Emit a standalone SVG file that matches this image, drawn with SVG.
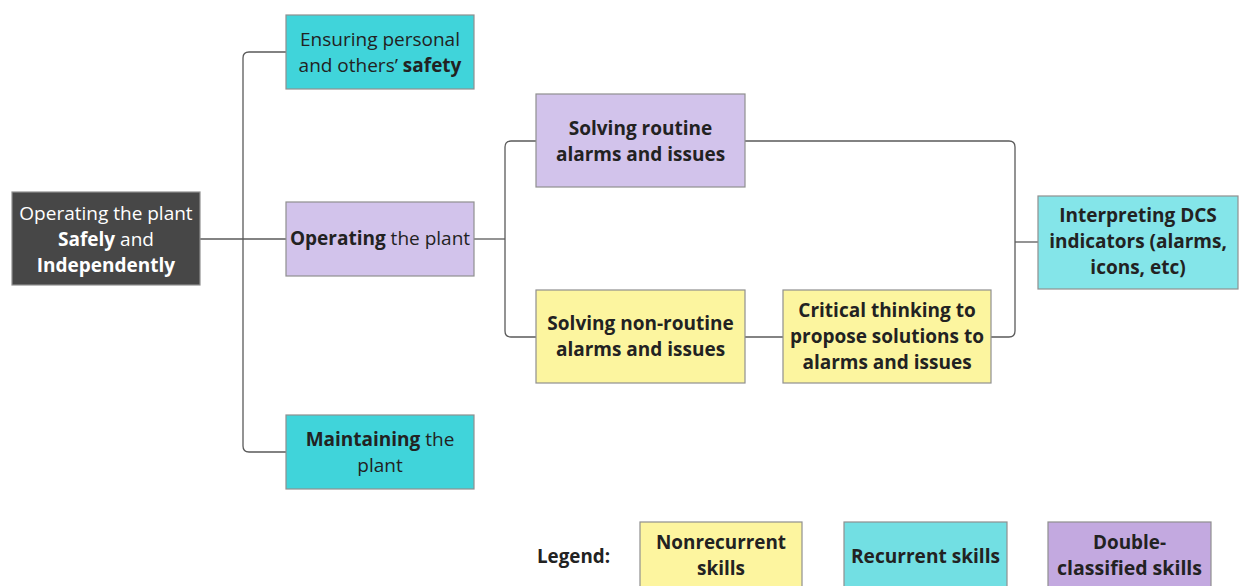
<svg xmlns="http://www.w3.org/2000/svg" width="1239" height="586" viewBox="0 0 1239 586">
<style>
text{font-family:"Open Sans","Noto Sans","Liberation Sans",sans-serif;font-size:19px;text-anchor:middle;fill:#222}
.b{font-weight:bold}
.w{fill:#fff}
.box{stroke:#8f8f8f;stroke-width:1.2}
.dark{fill:#474747}
.cy{fill:#40d4da}
.cy2{fill:#84e5e9}
.lv{fill:#d2c3eb}
.ye{fill:#fcf59f}
.lg{font-weight:bold;font-size:20px}
.con{fill:none;stroke:#5a5a5a;stroke-width:1.3}
</style>
<rect width="1239" height="586" fill="#fff"/>
<g id="connectors" class="con">
<path d="M200,239 H243"/>
<path d="M286,52 H249 Q243,52 243,58 V446 Q243,452 249,452 H286"/>
<path d="M243,239 H286"/>
<path d="M474,239 H505"/>
<path d="M536,141 H511 Q505,141 505,147 V331 Q505,337 511,337 H536"/>
<path d="M745,141 H1009 Q1015,141 1015,147 V331 Q1015,337 1009,337 H991"/>
<path d="M1015,242 H1038"/>
<path d="M745,337 H783"/>
</g>
<g id="root">
<rect class="box dark" x="12" y="192" width="188" height="93"/>
<text class="w" x="106" y="220">Operating the plant</text>
<text class="w" x="106" y="246"><tspan class="b w">Safely</tspan> and</text>
<text class="w b" x="106" y="272">Independently</text>
</g>
<g id="ensuring">
<rect class="box cy" x="286" y="15" width="188" height="74"/>
<text x="380" y="46">Ensuring personal</text>
<text x="380" y="72">and others’ <tspan class="b">safety</tspan></text>
</g>
<g id="operating">
<rect class="box lv" x="286" y="202" width="188" height="74"/>
<text x="380" y="245"><tspan class="b">Operating</tspan> the plant</text>
</g>
<g id="maintaining">
<rect class="box cy" x="286" y="415" width="188" height="74"/>
<text x="380" y="446"><tspan class="b">Maintaining</tspan> the</text>
<text x="380" y="472">plant</text>
</g>
<g id="routine">
<rect class="box lv" x="536" y="94" width="209" height="93"/>
<text class="b" x="640.5" y="135">Solving routine</text>
<text class="b" x="640.5" y="161">alarms and issues</text>
</g>
<g id="nonroutine">
<rect class="box ye" x="536" y="290" width="209" height="93"/>
<text class="b" x="640.5" y="330">Solving non-routine</text>
<text class="b" x="640.5" y="356">alarms and issues</text>
</g>
<g id="critical">
<rect class="box ye" x="783" y="290" width="208" height="93"/>
<text class="b" x="887" y="317">Critical thinking to</text>
<text class="b" x="887" y="343">propose solutions to</text>
<text class="b" x="887" y="369">alarms and issues</text>
</g>
<g id="interpreting">
<rect class="box cy2" x="1038" y="196" width="200" height="93"/>
<text class="b" x="1138" y="222">Interpreting DCS</text>
<text class="b" x="1138" y="248">indicators (alarms,</text>
<text class="b" x="1138" y="274">icons, etc)</text>
</g>
<g id="legend">
<text class="lg" x="573.5" y="563" textLength="73" lengthAdjust="spacingAndGlyphs">Legend:</text>
<rect class="box" fill="#fdf59f" x="640" y="522" width="162" height="70"/>
<text class="lg" x="721" y="549" textLength="130" lengthAdjust="spacingAndGlyphs">Nonrecurrent</text>
<text class="lg" x="721" y="575" textLength="48" lengthAdjust="spacingAndGlyphs">skills</text>
<rect class="box" fill="#72dfe3" x="844" y="522" width="163" height="70"/>
<text class="lg" x="925.5" y="563" textLength="149" lengthAdjust="spacingAndGlyphs">Recurrent skills</text>
<rect class="box" fill="#c3a9e0" x="1048" y="522" width="163" height="70"/>
<text class="lg" x="1129.5" y="549" textLength="73" lengthAdjust="spacingAndGlyphs">Double-</text>
<text class="lg" x="1129.5" y="575" textLength="145" lengthAdjust="spacingAndGlyphs">classified skills</text>
</g>
</svg>
